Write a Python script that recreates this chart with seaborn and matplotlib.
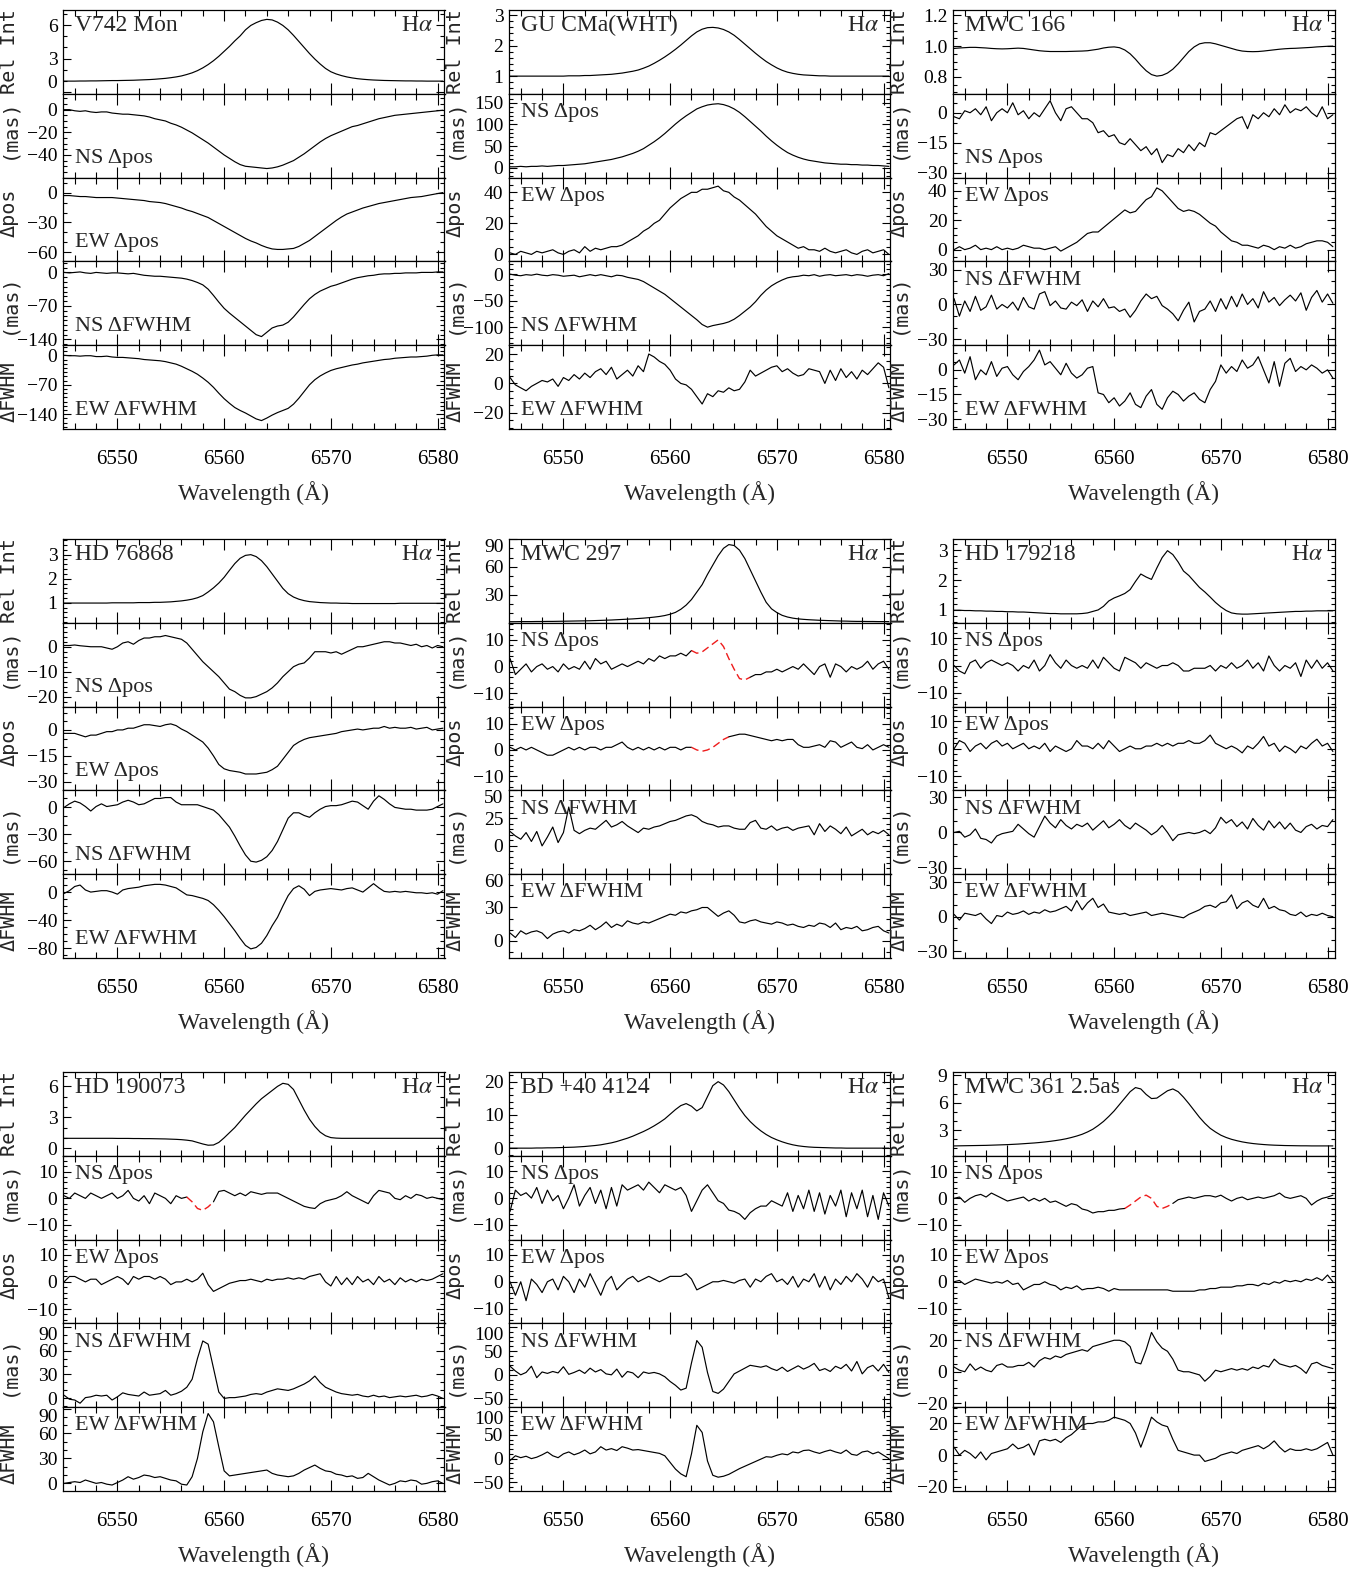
import numpy as np
import matplotlib
matplotlib.use("Agg")
import matplotlib.pyplot as plt
import seaborn as sns
from matplotlib.ticker import FixedLocator, MultipleLocator, AutoMinorLocator, FuncFormatter

# ------------------------------------------------------------------ data
WL_START = 6545.0
WL_STEP = 0.5
XLIM = (6544.9, 6580.65)
X_TICKS = [6550, 6560, 6570, 6580]

STARS = ["V742 Mon", "GU CMa(WHT)", "MWC 166",
         "HD 76868", "MWC 297", "HD 179218",
         "HD 190073", "BD +40 4124", "MWC 361 2.5as"]
LINE_LABEL = "H$\\alpha$"
SUB_NAMES = ["NS \u0394pos", "EW \u0394pos", "NS \u0394FWHM", "EW \u0394FWHM"]
YLABELS = ["Rel Int", "(mas)", "\u0394pos", "(mas)", "\u0394FWHM"]
XLABEL = "Wavelength (\u00c5)"

# ---- V742 Mon
v742_rel = [0.95, 0.95, 0.95, 0.96, 0.96, 0.97, 0.97, 0.98,
            0.99, 1.00, 1.00, 1.01, 1.02, 1.03, 1.05, 1.07,
            1.09, 1.12, 1.16, 1.20, 1.26, 1.33, 1.42, 1.55,
            1.70, 1.90, 2.15, 2.45, 2.80, 3.20, 3.65, 4.10,
            4.60, 5.05, 5.60, 6.00, 6.25, 6.45, 6.55, 6.50,
            6.30, 6.00, 5.60, 5.10, 4.55, 4.00, 3.45, 2.95,
            2.50, 2.10, 1.80, 1.60, 1.45, 1.33, 1.24, 1.17,
            1.12, 1.08, 1.05, 1.03, 1.01, 1.00, 0.99, 0.98,
            0.97, 0.97, 0.96, 0.96, 0.95, 0.95, 0.95, 0.95]
v742_ns_pos = [0, 0, -1, -1.5, -1, -2, -2.5, -2,
               -2, -3, -3.5, -4, -4, -4.5, -5, -5.5,
               -6.5, -8, -9, -10, -12, -13.5, -15.5, -18,
               -20.5, -23.5, -26.5, -29.5, -33, -36.5, -40, -43,
               -46, -48.5, -50, -50.5, -51, -51.5, -52, -51.5,
               -50.5, -49, -47, -45, -42, -39, -35.5, -32,
               -28.5, -25.5, -23, -21, -19, -17, -15, -14,
               -12.5, -11, -9.5, -8, -7, -6, -5, -4.5,
               -4, -3.5, -3, -2.5, -2, -1.5, -1, -0.5]
v742_ew_pos = [-3, -3, -3.5, -4, -4, -4.5, -5, -5,
               -5, -5, -5.5, -6, -6.5, -7, -7.5, -8,
               -9, -9.5, -10, -11, -12.5, -14, -15.5, -17.5,
               -19, -21, -23, -25, -28, -31, -34, -37,
               -40, -43, -46, -48.5, -50.5, -53, -55, -56.5,
               -57, -57, -56.5, -56, -54, -51, -48, -44,
               -40, -36, -32, -28, -24.5, -21.5, -19.5, -17.5,
               -15.5, -14, -12.5, -11, -10, -9, -8, -7,
               -6, -5, -4.5, -4, -3, -2, -1, 0]
v742_ns_fwhm = [0, -1, 0, 1, -1, -2, 0, -1,
                -2, -1, -1, -2, -3, -2, -4, -6,
                -7, -8, -8, -9, -10, -11, -12, -14,
                -17, -21, -26, -35, -48, -62, -75, -85,
                -94, -103, -112, -121, -130, -134, -125, -116,
                -112, -110, -104, -93, -80, -67, -55, -46,
                -39, -34, -29, -26, -22, -18, -14, -11,
                -9, -7, -6, -4, -3, -3, -2, -2,
                -1, -1, -1, 0, 0, 0, 1, 1]
v742_ew_fwhm = [0, -1, -1, -2, -1, -1, -3, -3,
                -2, -4, -5, -5, -6, -7, -8, -10,
                -11, -12, -13, -15, -18, -21, -26, -32,
                -38, -45, -54, -64, -76, -90, -103, -114,
                -124, -131, -137, -144, -151, -155, -149, -142,
                -136, -131, -126, -116, -102, -86, -70, -58,
                -49, -42, -36, -32, -29, -26, -23, -21,
                -18, -16, -14, -12, -10, -9, -7, -6,
                -5, -4, -4, -3, -2, 0, 1, 1]
v742_yticks = [[0, 3, 6], [0, -20, -40], [0, -30, -60], [0, -70, -140], [0, -70, -140]]
v742_ylim = [(-0.2, 7.4), (-60, 14), (-69, 15), (-152, 23), (-175, 24)]

# ---- GU CMa (WHT)
gucma_rel = [1.0, 1.0, 1.0, 1.0, 1.0, 1.0, 1.0, 1.0,
             1.0, 1.0, 1.0, 1.01, 1.01, 1.01, 1.02, 1.02,
             1.03, 1.04, 1.05, 1.06, 1.08, 1.10, 1.13, 1.16,
             1.20, 1.26, 1.33, 1.42, 1.52, 1.63, 1.75, 1.88,
             2.02, 2.17, 2.32, 2.45, 2.54, 2.59, 2.60, 2.58,
             2.53, 2.45, 2.34, 2.20, 2.05, 1.90, 1.75, 1.61,
             1.48, 1.37, 1.27, 1.19, 1.13, 1.09, 1.06, 1.04,
             1.03, 1.02, 1.01, 1.01, 1.0, 1.0, 1.0, 1.0,
             1.0, 1.0, 1.0, 1.0, 1.0, 1.0, 1.0, 1.0]
gucma_ns_pos = [2, 2, 3, 2, 3, 3, 4, 3,
                4, 5, 5, 6, 7, 8, 9, 11,
                13, 15, 17, 19, 22, 25, 29, 33,
                38, 44, 52, 60, 69, 79, 90, 101,
                111, 120, 128, 136, 141, 145, 147, 148,
                146, 142, 136, 128, 118, 107, 96, 85,
                73, 62, 52, 43, 35, 29, 24, 20,
                17, 15, 13, 11, 10, 9, 8, 8,
                7, 7, 6, 6, 5, 5, 4, 3]
gucma_ew_pos = [1, 0, 2, 1, 0, 2, 1, 2,
                3, 1, 0, 2, 3, 1, 5, 2,
                4, 3, 4, 5, 5, 6, 8, 10,
                12, 15, 17, 20, 22, 26, 30, 33,
                36, 38, 40, 40, 42, 42, 43, 44,
                41, 40, 37, 35, 32, 29, 26, 22,
                18, 15, 12, 10, 8, 6, 4, 5,
                3, 3, 2, 4, 2, 1, 2, 3,
                1, 0, 2, 3, 1, 2, 3, 0]
gucma_ns_fwhm = [0, -2, -3, -1, -2, 0, -2, -3,
                 -1, -2, -4, -3, -2, -5, -3, -1,
                 -3, -1, -3, -5, -2, -3, -6, -8,
                 -10, -14, -20, -26, -32, -38, -46, -54,
                 -62, -70, -78, -86, -95, -100, -97, -95,
                 -93, -90, -85, -78, -70, -62, -52, -40,
                 -30, -22, -16, -11, -7, -5, -4, -2,
                 -3, -1, -4, -2, -1, -3, -2, -1,
                 -3, -1, -2, -4, -2, -1, -3, 1]
gucma_ew_fwhm = [4, -1, -3, -5, -2, 0, 2, 1,
                 3, -2, 4, 2, 6, 3, 7, 4,
                 8, 10, 6, 11, 3, 6, 9, 5,
                 12, 8, 20, 18, 15, 13, 9, 3,
                 0, -1, -4, -9, -14, -7, -9, -5,
                 -6, -3, -5, -4, 1, 9, 5, 7,
                 9, 11, 12, 8, 10, 7, 5, 6,
                 10, 9, 8, 0, 9, 2, 10, 4,
                 8, 3, 9, 6, 10, 14, 11, -3]
gucma_yticks = [[1, 2, 3], [0, 50, 100, 150], [0, 20, 40], [0, -50, -100], [-20, 0, 20]]
gucma_ylim = [(0.42, 3.17), (-23, 171), (-4.5, 49.5), (-134, 24), (-31, 26)]

# ---- MWC 166
mwc166_rel = [0.985, 0.988, 0.990, 0.992, 0.992, 0.990, 0.988, 0.985,
              0.983, 0.982, 0.983, 0.985, 0.987, 0.985, 0.980, 0.975,
              0.970, 0.967, 0.965, 0.965, 0.965, 0.965, 0.966, 0.967,
              0.968, 0.970, 0.975, 0.980, 0.988, 0.993, 0.995, 0.990,
              0.975, 0.950, 0.915, 0.875, 0.840, 0.815, 0.805, 0.810,
              0.825, 0.850, 0.885, 0.925, 0.965, 0.995, 1.015, 1.022,
              1.022, 1.015, 1.005, 0.995, 0.985, 0.975, 0.968, 0.965,
              0.964, 0.965, 0.968, 0.972, 0.976, 0.980, 0.983, 0.985,
              0.986, 0.988, 0.990, 0.992, 0.995, 0.997, 0.999, 1.000]
mwc166_ns_pos = [-2, -3, 1, 0, 2, -1, 3, -4,
                 0, 2, 0, 5, -1, 1, -3, 0,
                 -2, 2, 6, 0, -4, 2, 3, 0,
                 -3, -3, -5, -10, -9, -12, -11, -15,
                 -16, -13, -16, -19, -17, -21, -18, -25,
                 -21, -22, -18, -20, -16, -19, -15, -17,
                 -10, -11, -9, -7, -5, -3, -2, -8,
                 -1, -3, 0, -2, 2, -1, 4, 0,
                 2, 1, 3, 0, -2, 3, -3, -1]
mwc166_ew_pos = [0, 2, 0, 1, 3, 0, 1, 0,
                 2, 0, 1, 0, 1, 3, 2, 1,
                 1, 0, 1, 2, -1, 1, 3, 5,
                 8, 11, 12, 12, 15, 18, 21, 24,
                 27, 25, 26, 30, 34, 36, 42, 40,
                 36, 32, 28, 26, 27, 26, 24, 21,
                 18, 16, 12, 9, 6, 5, 3, 3,
                 2, 1, 3, 2, 0, 2, 1, 3,
                 1, 2, 4, 5, 6, 6, 5, 2]
mwc166_ns_fwhm = [5, -10, 3, -6, 7, -5, -2, 8,
                  -4, 0, -3, 2, -5, 6, -2, -4,
                  9, 11, -1, 3, -3, -4, 2, -1,
                  4, -6, 3, -2, 5, -3, -2, -6,
                  -4, -11, -5, 3, 9, 5, 7, -1,
                  -4, -8, -14, -5, 2, -15, -6, -4,
                  3, -6, 5, -4, 7, -2, 9, 0,
                  5, -3, 11, 2, 6, -1, 4, 8,
                  3, 10, -5, 6, 12, 2, 9, 1]
mwc166_ew_fwhm = [3, 6, -2, 8, -6, 0, -3, 5,
                  -4, 1, 2, -3, -6, -1, 2, 6,
                  12, 3, 5, 1, -3, 4, -2, -5,
                  -3, 1, 2, -14, -15, -20, -17, -22,
                  -19, -14, -21, -23, -16, -12, -21, -24,
                  -17, -13, -15, -19, -16, -14, -18, -20,
                  -12, -7, 3, -2, 2, -1, 6, 1,
                  3, 8, 0, -8, 5, -10, 4, 7,
                  -1, 2, 0, 3, 1, -2, 0, -5]
mwc166_yticks = [[0.8, 1.0, 1.2], [0, -15, -30], [0, 20, 40], [-30, 0, 30], [0, -15, -30]]
mwc166_ylim = [(0.69, 1.235), (-32.5, 9.5), (-8, 49), (-35, 37), (-36, 15)]

# ---- HD 76868
hd76868_rel = [0.99, 0.99, 0.99, 0.99, 0.99, 0.99, 0.99, 0.99,
               0.99, 1.00, 1.00, 1.00, 1.00, 1.00, 1.01, 1.01,
               1.01, 1.02, 1.02, 1.03, 1.04, 1.06, 1.08, 1.11,
               1.15, 1.21, 1.30, 1.45, 1.62, 1.82, 2.06, 2.35,
               2.63, 2.85, 2.97, 3.00, 2.92, 2.75, 2.50, 2.20,
               1.90, 1.60, 1.38, 1.24, 1.15, 1.09, 1.05, 1.03,
               1.01, 1.00, 0.99, 0.99, 0.98, 0.98, 0.97, 0.97,
               0.97, 0.97, 0.97, 0.97, 0.97, 0.97, 0.97, 0.98,
               0.98, 0.98, 0.98, 0.98, 0.98, 0.98, 0.98, 0.98]
hd76868_ns_pos = [0.5, 0.5, 0.7, 0.4, 0.2, 0, 0, 0,
                  -0.5, -1, 0, 1.5, 2, 1, 2.5, 3.5,
                  3.5, 4, 4, 4.5, 4, 3.5, 3, 1.5,
                  -1, -3.5, -6, -8, -10, -12, -14.5, -17,
                  -18, -19.5, -20.5, -20.5, -20, -19, -18, -16.5,
                  -14.5, -12, -10, -8, -7, -6.5, -4.5, -2,
                  -2, -2, -2.5, -2, -3, -2, -1, 0,
                  0, 0.5, 1, 1.5, 2, 2, 1.5, 1.5,
                  1, 0.5, 1, 0, 0.5, -0.5, 0.5, 0]
hd76868_ew_pos = [-2, -2, -2, -3, -4, -3, -3, -2,
                  -1, -1, 0, 0, 1, 1, 2, 3,
                  3, 2.5, 2, 3, 3.5, 2.5, 0.5, -1,
                  -3, -5, -7, -10.5, -15, -20, -22.5, -23.5,
                  -24, -24.5, -25.5, -25.5, -25.5, -25, -24.5, -23,
                  -21, -17, -13, -9, -7, -5.5, -4.5, -4,
                  -3.5, -3, -2.5, -2, -1, -0.5, 0, 0.5,
                  0, 0.5, 1, 1, 2, 1, 1.5, 1,
                  1, 1.5, 0.5, 1, 1.5, 0, 0.5, 1]
hd76868_ns_fwhm = [0, 4, 7, 5, 1, -4, 1, 4,
                   1, 2, 3, 6, 8, 6, 3, 4,
                   7, 10, 10, 11, 11, 6, 3, 3,
                   3, 3, 1, -1, -3, -8, -15, -22,
                   -32, -43, -53, -60, -61, -59, -55, -48,
                   -38, -25, -12, -6, -6, -9, -11, -6,
                   -2, 1, 2, 2, 3, 5, 7, 6,
                   2, -2, 7, 13, 9, 4, 0, -1,
                   -2, -2, -3, -3, -3, -2, 1, 4]
hd76868_ew_fwhm = [-2, 2, 8, 10, 3, 0, 1, 2,
                   2, 0, -3, 3, 5, 6, 7, 9,
                   10, 11, 11, 10, 8, 6, 1, -4,
                   -5, -7, -9, -12, -18, -26, -35, -45,
                   -55, -66, -76, -81, -79, -73, -62, -48,
                   -36, -20, -5, 5, 9, 4, -5, 1,
                   3, 4, 5, 4, 3, 5, 6, 3,
                   0, 6, 12, 6, 1, 0, 1, 0,
                   1, 0, -1, -1, -2, -1, -3, 2]
hd76868_yticks = [[1, 2, 3], [0, -10, -20], [0, -15, -30], [0, -30, -60], [0, -40, -80]]
hd76868_ylim = [(0.17, 3.65), (-24, 9.6), (-35, 13.5), (-74.5, 19), (-94, 25.5)]

# ---- MWC 297
mwc297_rel = [1.2, 1.2, 1.3, 1.3, 1.3, 1.4, 1.4, 1.5,
              1.5, 1.6, 1.7, 1.8, 1.9, 2.0, 2.1, 2.2,
              2.4, 2.6, 2.8, 3.0, 3.3, 3.6, 3.9, 4.2,
              4.6, 5.0, 5.5, 6.1, 6.8, 7.8, 9.2, 11.2,
              14.5, 19, 25, 33, 41, 52, 62, 72,
              80, 84, 83, 78, 69, 57, 45, 33,
              22, 15, 11, 8, 6.2, 5.0, 4.2, 3.7,
              3.3, 3.0, 2.7, 2.5, 2.3, 2.1, 1.9, 1.8,
              1.6, 1.5, 1.5, 1.4, 1.4, 1.3, 1.3, 1.3]
mwc297_ns_pos = [3, -3, -1, 1, -2, 0, 1, -1,
                 0, -2, 1, -1, 0, -1, 2, -1,
                 3, 1, 2, -1, 0, 1, 0, 1,
                 2, 1, 3, 2, 4, 3, 4, 4,
                 5, 4, 6, 5, 5.5, 7, 8.5, 10,
                 7.5, 3, -1, -4.5, -5, -4, -3, -3,
                 -2, -2, -1, -2, -1, 0, -1, 1,
                 -1, -3, 0, 1, -4, 1, 0, -2,
                 0, -1, 0, 2, -1, 1, 2, -1]
mwc297_ew_pos = [1, 0, 1, 0, 1, 0, -1, -2,
                 -2, -1, 0, 1, 0, 1, 0, 1,
                 1, 0, 1, 1, 2, 3, 1, 0,
                 1, 0, 1, 0, 1, 0, 1, 1,
                 0, 1, 1, 0, -0.5, 0, 1, 2.5,
                 4, 5, 5.5, 6, 6, 5.5, 5, 4.5,
                 4, 3.5, 4, 3.5, 4, 4, 2, 1,
                 1, 1.5, 2, 1, 3.5, 3, 1, 2,
                 3, 1, 0.5, 2, 0, 1, 2, 1]
mwc297_ns_fwhm = [13, 9, 6, 12, 4, 13, 0, 8,
                  17, 3, 12, 35, 14, 11, 14, 16,
                  15, 19, 23, 17, 19, 22, 18, 15,
                  12, 16, 15, 17, 18, 20, 22, 23,
                  25, 27, 28, 26, 22, 20, 19, 17,
                  18, 18, 16, 15, 15, 21, 23, 16,
                  15, 18, 14, 16, 17, 14, 16, 17,
                  18, 10, 20, 13, 18, 15, 11, 17,
                  9, 12, 15, 10, 13, 11, 14, 10]
mwc297_ew_fwhm = [7, 3, 9, 6, 8, 9, 7, 2,
                  6, 8, 9, 7, 10, 9, 11, 14,
                  10, 13, 17, 12, 15, 13, 18, 16,
                  15, 17, 16, 18, 20, 22, 24, 23,
                  26, 25, 27, 28, 30, 30, 26, 22,
                  25, 27, 23, 17, 16, 18, 19, 17,
                  16, 15, 17, 16, 14, 15, 13, 12,
                  14, 13, 16, 15, 12, 16, 10, 12,
                  11, 13, 9, 10, 12, 13, 9, 7]
mwc297_yticks = [[30, 60, 90], [-10, 0, 10], [-10, 0, 10], [0, 25, 50], [0, 30, 60]]
mwc297_ylim = [(0, 90), (-15, 16.4), (-15.4, 16.5), (-25.5, 50), (-15.5, 60)]

# ---- HD 179218
hd179218_rel = [0.99, 0.99, 0.98, 0.98, 0.97, 0.97, 0.96, 0.96,
                0.95, 0.95, 0.94, 0.94, 0.93, 0.93, 0.92, 0.91,
                0.90, 0.89, 0.88, 0.88, 0.87, 0.87, 0.87, 0.87,
                0.88, 0.90, 0.95, 1.00, 1.12, 1.30, 1.40, 1.47,
                1.55, 1.68, 1.95, 2.20, 2.10, 2.02, 2.40, 2.75,
                2.98, 2.85, 2.60, 2.30, 2.15, 1.95, 1.75, 1.60,
                1.43, 1.25, 1.10, 0.98, 0.90, 0.87, 0.86, 0.86,
                0.87, 0.88, 0.89, 0.90, 0.91, 0.92, 0.93, 0.94,
                0.95, 0.95, 0.96, 0.96, 0.97, 0.97, 0.97, 0.97]
hd179218_ns_pos = [0, -2, -3, 1, 2, -1, 1, 2,
                   1, 0, 1, 0, -2, 0, -1, 2,
                   -2, 0, 4, 1, -1, 2, 0, -1,
                   0, -1, 2, -1, 3, 1, -1, -2,
                   3, 2, 1, -1, 1, 0, -1, 0,
                   0, 1, 0, -2, -2, -1, -1, -1,
                   0, -2, 0, -1, 1, -1, 0, 2,
                   -1, 1, -2, 3.5, 0, -2, 0, -1,
                   1, -4, 2, -1, 2, -1, 1, -2]
hd179218_ew_pos = [0, 3, 2, -1, 1, 2, 0, 2,
                   3, 1, 2, 0, 1, 2, 0, 1,
                   0, 2, -1, 1, 0, -1, 0, 3,
                   1, 1, 0, 2, 0, 3, 1, -1,
                   0, 1, 0, 0, 1, 1, 2, 1,
                   2, 1, 2, 2, 3, 2, 2, 3,
                   5, 2, 1, 0, 1, 0, -1.5, 1,
                   0, 2, 4.5, 1, 2, -1, 1, 0,
                   -1.5, 1, 0, 2, 3.5, 1, 2, -1]
hd179218_ns_fwhm = [0, 1, -4, -2, 3, -5, -6, -9,
                    -3, -1, 0, 1, 7, 3, -1, -4,
                    5, 14, 8, 4, 11, 6, 3, 7,
                    5, 8, 2, 6, 10, 4, 7, 11,
                    6, 3, 8, 5, 2, -2, 1, 6,
                    0, -7, -2, -1, 0, -1, 0, 2,
                    -1, 4, 13, 8, 11, 5, 9, 3,
                    12, 6, 2, 10, 4, 9, 3, 8,
                    2, 0, 5, 7, 3, 6, 5, 11]
hd179218_ew_fwhm = [2, -3, 3, 2, 1, 3, -2, -6,
                    1, 0, 4, 2, 3, 5, 2, 4,
                    3, 6, 4, 5, 7, 9, 5, 14,
                    6, 12, 16, 8, 11, 4, 3, 2,
                    3, 1, 2, 3, 4, 1, 2, 3,
                    2, 1, 0, -1, 2, 4, 6, 9,
                    10, 8, 12, 13, 19, 7, 12, 14,
                    10, 8, 16, 7, 9, 6, 5, 2,
                    1, 4, 0, 2, 1, 3, 1, 0]
hd179218_yticks = [[1, 2, 3], [-10, 0, 10], [-10, 0, 10], [-30, 0, 30], [-30, 0, 30]]
hd179218_ylim = [(0.57, 3.37), (-15, 15.6), (-15.2, 15.4), (-35.7, 36), (-36, 37)]

# ---- HD 190073
hd190073_rel = [0.95, 0.95, 0.95, 0.95, 0.95, 0.95, 0.95, 0.95,
                0.95, 0.95, 0.94, 0.94, 0.94, 0.93, 0.93, 0.92,
                0.92, 0.91, 0.90, 0.89, 0.87, 0.85, 0.82, 0.77,
                0.70, 0.55, 0.40, 0.28, 0.30, 0.55, 1.00, 1.50,
                2.00, 2.60, 3.20, 3.75, 4.30, 4.80, 5.20, 5.60,
                6.00, 6.30, 6.20, 5.70, 4.70, 3.70, 2.80, 2.10,
                1.55, 1.20, 1.02, 0.97, 0.95, 0.95, 0.95, 0.95,
                0.95, 0.95, 0.95, 0.95, 0.95, 0.95, 0.95, 0.95,
                0.95, 0.95, 0.95, 0.95, 0.95, 0.95, 0.95, 0.95]
hd190073_ns_pos = [1, 0, 2, 1, 0, 2, 1, 0,
                   1, 2, 0, 1, 3, 0, -1, 1,
                   -2, 2, 1, 0, -2, 1, 0, 0.5,
                   -1.3, -3.8, -4.5, -3.2, -1.3, 2.6, 3, 2,
                   1, 2, 1, 2.5, 2, 1.5, 2, 2,
                   2, 1, 0, -1, -2, -3, -3.5, -3.8,
                   -2, -1, -0.5, 0, 1, 2.5, 1, 0,
                   -1, -2, 1, 3, 2.5, 2, 0, -0.5,
                   1, 0, 1.5, 1, 0, 0.5, 0, -0.5]
hd190073_ew_pos = [0, 2, 2, 1, 0, 1, 1, -1,
                   0, 1, 2, 1, -1, 2, 1, 2,
                   2, 1, 2, 1, -1, 0, 0, 1,
                   0, 1, 3.2, -1, -3.5, -2.5, -1.5, -0.5,
                   0, 0.5, 0.5, 1, 0.5, 0, 1, 0.5,
                   1, 1, 1.5, 1, 1.5, 1, 2, 2.5,
                   3, 0, -1.5, 2, -1, 1.5, -1, 2,
                   0, 1, -1, 2, 0, 1, -1, 1.5,
                   0, 1, 0, 1, 0.5, 1, 2, 3]
hd190073_ns_fwhm = [4, -1, -2, -6, 1, 2, 4, 3,
                    4, -2, 2, 7, 5, 4, 3, 8,
                    4, 5, 6, 10, 4, 6, 9, 14,
                    24, 50, 72, 68, 38, 8, 0, 1,
                    1, 2, 3, 5, 6, 5, 8, 10,
                    12, 11, 10, 12, 15, 18, 22, 28,
                    20, 14, 11, 8, 6, 5, 4, 5,
                    3, 2, 4, 2, 3, 1, 2, 3,
                    2, 3, 4, 2, 3, 5, 3, 0]
hd190073_ew_fwhm = [0, 1, 2, 1, 4, 2, 0, 1,
                    -1, -2, 1, 4, 8, 5, 7, 10,
                    9, 7, 8, 6, 4, 3, -1, -2,
                    8, 30, 62, 84, 74, 44, 15, 9,
                    10, 11, 12, 13, 14, 15, 16, 12,
                    10, 9, 8, 9, 12, 16, 19, 22,
                    18, 15, 14, 11, 10, 8, 9, 6,
                    7, 12, 8, 4, 1, -2, 0, 3,
                    2, 4, 3, -1, 0, 2, 3, 0]
hd190073_yticks = [[0, 3, 6], [-10, 0, 10], [-10, 0, 10], [0, 30, 60, 90], [0, 30, 60, 90]]
hd190073_ylim = [(-0.75, 7.4), (-15.5, 16), (-15.3, 15.6), (-11, 94), (-9.2, 91.6)]

# ---- BD +40 4124
bd40_rel = [0, 0, 0, 0, 0, 0.05, 0.05, 0.1,
            0.1, 0.15, 0.2, 0.25, 0.3, 0.4, 0.5, 0.65,
            0.8, 1.0, 1.3, 1.6, 2.0, 2.5, 3.0, 3.6,
            4.3, 5.0, 5.8, 6.7, 7.7, 8.8, 10.2, 11.6,
            12.8, 13.4, 12.6, 11.2, 12.2, 15.5, 18.8, 20.0,
            19.0, 17.0, 14.5, 12.0, 9.8, 8.0, 6.5, 5.2,
            4.1, 3.2, 2.5, 1.9, 1.4, 1.0, 0.7, 0.5,
            0.35, 0.25, 0.2, 0.15, 0.1, 0.05, 0.05, 0,
            0, 0, 0, 0, 0, 0, 0, 0]
bd40_ns_pos = [-5, 3, 1, 2, 0, 4, -2, 3,
               -1, 1, -4, 0, 5, -3, 1, 4,
               -2, 3, -4, 4, -3, 5, 3, 4,
               5, 3, 6, 4, 2, 5, 4, 3,
               4, 1, -5, -1, 3, 5, 2, -1,
               -2, -4.5, -5, -6, -8, -5.5, -4, -3,
               -3, -1, -2, -3, 2, -5, 1, -4,
               3, -5, 2, -6, 1, -3, 3, -7,
               2, -4, 3, -7, 1, -8, 2, -3]
bd40_ew_pos = [0, -5, 0, -7, 1, -1, -4, 0,
               1, -3, 2, 0, -4, 1, -2, 3,
               -1, -5, 0, 2, -3, -1, 1, 2,
               0, 1, 2, 1, 0, 1, 2, 2,
               2, 3, 1, -3, -2, -1, 0, 0,
               0.5, 0, -0.5, 0.5, 1, -2, 1, 0,
               2, 3, 0, 1, -1, 2, -2, 1,
               0, 3, -2, 2, -3, 1, -1, 2,
               0, 3, 1, -2, 2, 0, 1, -6]
bd40_ns_fwhm = [18, 8, 0, 5, 18, -6, 6, 3,
                7, 4, 17, 1, 5, 10, 3, 14,
                6, 11, 2, 0, 12, -5, 7, 4,
                -6, 6, 3, 5, 2, -4, -14, -22,
                -32, -28, 25, 72, 58, 5, -35, -39,
                -30, -14, 2, 8, 14, 20, 18, 16,
                19, 13, 9, 16, 7, 13, 19, 12,
                17, 24, 9, 13, 7, 18, 13, 22,
                8, 28, 2, 15, 20, 8, 22, 5]
bd40_ew_fwhm = [-4, 6, 2, 5, 0, 3, 8, 14,
                6, 2, 10, 14, 8, 12, 18, 10,
                14, 25, 18, 21, 17, 25, 22, 18,
                19, 17, 15, 13, 11, 6, -8, -22,
                -32, -38, 10, 70, 55, -5, -35, -39,
                -37, -33, -27, -21, -16, -11, -6, -1,
                4, 3, 7, 10, 8, 14, 12, 17,
                18, 14, 11, 15, 18, 14, 11, 18,
                9, 7, 14, 16, 10, 14, 7, 0]
bd40_yticks = [[0, 10, 20], [-10, 0, 10], [-10, 0, 10], [-50, 0, 50, 100], [-50, 0, 50, 100]]
bd40_ylim = [(-2.3, 22.9), (-15.6, 15.9), (-15.4, 15.6), (-68, 108), (-68, 108)]

# ---- MWC 361 2.5as
mwc361_rel = [1.28, 1.29, 1.30, 1.31, 1.32, 1.33, 1.34, 1.36,
              1.38, 1.40, 1.42, 1.45, 1.48, 1.52, 1.56, 1.60,
              1.65, 1.71, 1.78, 1.86, 1.95, 2.06, 2.20, 2.36,
              2.55, 2.80, 3.10, 3.50, 3.95, 4.50, 5.10, 5.80,
              6.50, 7.20, 7.65, 7.50, 6.90, 6.45, 6.50, 6.90,
              7.30, 7.50, 7.20, 6.60, 5.90, 5.15, 4.40, 3.75,
              3.20, 2.80, 2.45, 2.20, 2.00, 1.85, 1.72, 1.62,
              1.54, 1.48, 1.43, 1.39, 1.36, 1.34, 1.32, 1.31,
              1.30, 1.29, 1.29, 1.28, 1.28, 1.28, 1.28, 1.28]
mwc361_ns_pos = [0, 0.5, -1.5, 0, 1, 1.5, 0.5, 2,
                 1, 0, -1, -0.5, 0, 0.5, -1, 0,
                 -1, 0, -1.5, -1, -2, -3, -2, -2.5,
                 -4, -4.5, -5.5, -5, -5, -4.5, -4.5, -4,
                 -3.8, -2.5, -1, 0.5, 1.2, 0, -3, -3.8,
                 -3, -1.9, -0.5, 0, 0.5, 0, 0.5, 1,
                 1, 0.5, 1.2, 0, -1, 0, 0.5, -0.5,
                 0, 0.5, 0, 0.5, 1, 2, 0.5, 0,
                 0.5, 1, 0, -2.5, -1, 0, 0.5, 1.2]
mwc361_ew_pos = [0, 0.5, -1, 0, 1, 0.5, 0, -0.5,
                 0, -0.5, 0.5, -1, -0.5, -3, -2, -1,
                 -1, 0, -1, -1.5, -3, -2, -2.5, -1.5,
                 -3, -2.5, -2.5, -2, -2.5, -3.5, -2.5, -3,
                 -3, -3, -3, -3, -3, -3, -3, -3,
                 -3, -3.5, -3.5, -3.5, -3.5, -3.5, -3, -3,
                 -2.5, -2.5, -2, -2, -2, -1.5, -1.5, -1,
                 -1, -1.5, -0.5, -1, 0, -0.5, 0.5, 0,
                 0.5, 0, 1, 0.5, 1.5, 0.5, 2.5, 0]
mwc361_ns_fwhm = [3, 1, 0, 5, 1, 3, 1, 0,
                  4, 5, 3, 3, 4, 4, 6, 3,
                  7, 9, 8, 10, 9, 11, 12, 13,
                  14, 13, 16, 17, 18, 19, 20, 20,
                  19, 16, 6, 5, 14, 25, 19, 15,
                  13, 8, 1, 0, 0, -1, -2, -6,
                  -3, 1, 0, 1, 2, 1, 2, 1,
                  3, 2, 4, 3, 8, 5, 4, 3,
                  4, 2, -1, 5, 6, 4, 3, 2]
mwc361_ew_fwhm = [5, 0, 3, 1, -2, 2, -3, 1,
                  2, 3, 4, 7, 4, 5, 7, 0,
                  9, 10, 9, 10, 8, 11, 13, 16,
                  19, 20, 20, 21, 21, 22, 24, 23,
                  22, 20, 14, 5, 14, 24, 21, 19,
                  18, 10, 3, 2, 1, 0, 0, -4,
                  -3, -2, 0, 1, 2, 1, 3, 4,
                  5, 6, 4, 6, 9, 5, 2, 4,
                  3, 3, 4, 3, 4, 6, 8, 0]
mwc361_yticks = [[3, 6, 9], [-10, 0, 10], [-10, 0, 10], [-20, 0, 20], [-20, 0, 20]]
mwc361_ylim = [(0.2, 9.35), (-15.5, 16), (-15.4, 15.6), (-22.5, 30.7), (-22.7, 30.3)]

PANELS = {
    "V742 Mon": ([v742_rel, v742_ns_pos, v742_ew_pos, v742_ns_fwhm, v742_ew_fwhm], v742_yticks, v742_ylim),
    "GU CMa(WHT)": ([gucma_rel, gucma_ns_pos, gucma_ew_pos, gucma_ns_fwhm, gucma_ew_fwhm], gucma_yticks, gucma_ylim),
    "MWC 166": ([mwc166_rel, mwc166_ns_pos, mwc166_ew_pos, mwc166_ns_fwhm, mwc166_ew_fwhm], mwc166_yticks, mwc166_ylim),
    "HD 76868": ([hd76868_rel, hd76868_ns_pos, hd76868_ew_pos, hd76868_ns_fwhm, hd76868_ew_fwhm], hd76868_yticks, hd76868_ylim),
    "MWC 297": ([mwc297_rel, mwc297_ns_pos, mwc297_ew_pos, mwc297_ns_fwhm, mwc297_ew_fwhm], mwc297_yticks, mwc297_ylim),
    "HD 179218": ([hd179218_rel, hd179218_ns_pos, hd179218_ew_pos, hd179218_ns_fwhm, hd179218_ew_fwhm], hd179218_yticks, hd179218_ylim),
    "HD 190073": ([hd190073_rel, hd190073_ns_pos, hd190073_ew_pos, hd190073_ns_fwhm, hd190073_ew_fwhm], hd190073_yticks, hd190073_ylim),
    "BD +40 4124": ([bd40_rel, bd40_ns_pos, bd40_ew_pos, bd40_ns_fwhm, bd40_ew_fwhm], bd40_yticks, bd40_ylim),
    "MWC 361 2.5as": ([mwc361_rel, mwc361_ns_pos, mwc361_ew_pos, mwc361_ns_fwhm, mwc361_ew_fwhm], mwc361_yticks, mwc361_ylim),
}

# wavelength intervals drawn as red dashes (series index 1 = NS pos, 2 = EW pos)
RED_SEGMENTS = {
    ("MWC 297", 1): (6562.0, 6567.5),
    ("MWC 297", 2): (6562.0, 6565.5),
    ("HD 190073", 1): (6556.5, 6559.0),
    ("MWC 361 2.5as", 1): (6561.0, 6565.5),
}

# where each sub-panel label sits: t = top, b = bottom
LABEL_SIDE = {
    "V742 Mon": "bbbb", "GU CMa(WHT)": "ttbb", "MWC 166": "bttb",
    "HD 76868": "bbbb", "MWC 297": "tttt", "HD 179218": "tttt",
    "HD 190073": "tttt", "BD +40 4124": "tttt", "MWC 361 2.5as": "tttt",
}

# ------------------------------------------------------------------ style
sns.set_theme(style="white")
plt.rcParams.update({
    "font.family": ["Liberation Serif", "DejaVu Serif"],
    "mathtext.fontset": "stix",
    "axes.linewidth": 0.9,
    "axes.edgecolor": "black",
    "xtick.color": "black",
    "ytick.color": "black",
    "axes.unicode_minus": True,
    "figure.facecolor": "white",
    "axes.facecolor": "white",
})

FIG_W, FIG_H = 1367, 1572
COL_LEFT = [63, 509, 953]
ROW_TOP = [10, 539, 1072]
AX_W = 381.5
SUB_H = 83.8
LW = 0.85
RED_COLOR = "#ee1c1c"
MINOR_N = {0.2: 4, 1: 5, 3: 3, 10: 5, 15: 3, 20: 4, 25: 5, 30: 3, 40: 4, 50: 5, 70: 7}
YLAB_SHIFT = [0.0, 0.08, 0.08, 0.0, -0.05]

fig = plt.figure(figsize=(FIG_W / 100, FIG_H / 100), dpi=100)


def fmt_factory(decimals):
    def f(v, pos):
        s = f"{abs(v):.{decimals}f}"
        return ("\u2212" + s) if v < -1e-9 else s
    return FuncFormatter(f)


for p, star in enumerate(STARS):
    r, c = divmod(p, 3)
    series, yticks, ylims = PANELS[star]
    sides = LABEL_SIDE[star]
    for k in range(5):
        top_px = ROW_TOP[r] + k * SUB_H
        rect = [COL_LEFT[c] / FIG_W, 1 - (top_px + SUB_H) / FIG_H, AX_W / FIG_W, SUB_H / FIG_H]
        ax = fig.add_axes(rect)
        vals = np.asarray(series[k], dtype=float)
        wl = WL_START + WL_STEP * np.arange(len(vals))
        seg = RED_SEGMENTS.get((star, k))
        if seg is None:
            sns.lineplot(x=wl, y=vals, ax=ax, color="black", linewidth=LW,
                         estimator=None, legend=False)
        else:
            a, b = seg
            left = wl <= a
            mid = (wl >= a) & (wl <= b)
            right = wl >= b
            sns.lineplot(x=wl[left], y=vals[left], ax=ax, color="black", linewidth=LW,
                         estimator=None, legend=False)
            sns.lineplot(x=wl[mid], y=vals[mid], ax=ax, color=RED_COLOR, linewidth=1.0,
                         linestyle=(0, (5.5, 3.0)), estimator=None, legend=False)
            sns.lineplot(x=wl[right], y=vals[right], ax=ax, color="black", linewidth=LW,
                         estimator=None, legend=False)

        ax.set_xlim(*XLIM)
        lo, hi = ylims[k]
        ax.set_ylim(lo, hi)
        ax.set_xlabel("")
        ax.set_ylabel("")

        # x axis
        ax.xaxis.set_major_locator(FixedLocator(X_TICKS))
        ax.xaxis.set_minor_locator(MultipleLocator(2))
        ax.xaxis.set_major_formatter(FuncFormatter(lambda v, pos: f"{v:.0f}"))
        ax.tick_params(axis="x", which="major", direction="in", length=8, width=0.8,
                       top=True, bottom=True, labelbottom=(k == 4), labelsize=15, pad=15)
        ax.tick_params(axis="x", which="minor", direction="in", length=4, width=0.8,
                       top=True, bottom=True)

        # y axis
        tk = yticks[k]
        ax.yaxis.set_major_locator(FixedLocator(tk))
        step = round(abs(sorted(tk)[1] - sorted(tk)[0]), 3)
        ax.yaxis.set_minor_locator(AutoMinorLocator(MINOR_N.get(step, 5)))
        decimals = 0 if all(abs(t - round(t)) < 1e-9 for t in tk) else 1
        ax.yaxis.set_major_formatter(fmt_factory(decimals))
        ax.tick_params(axis="y", which="major", direction="in", length=6, width=0.8,
                       left=True, right=True, labelsize=14, pad=4)
        ax.tick_params(axis="y", which="minor", direction="in", length=3, width=0.8,
                       left=True, right=True)
        locs = ax.yaxis.get_majorticklocs()
        top_thr = 0.99 if k == 0 else 0.95
        for t, v in zip(ax.yaxis.get_major_ticks(len(locs)), locs):
            frac = (v - lo) / (hi - lo)
            if frac > top_thr:
                t.label1.set_verticalalignment("top")
            elif frac < 0.04:
                t.label1.set_verticalalignment("bottom")

        for s in ax.spines.values():
            s.set_linewidth(0.9)
            s.set_color("black")

        # rotated y label piece
        ax.text(-0.141, 0.5 + YLAB_SHIFT[k], YLABELS[k], transform=ax.transAxes, rotation=90,
                ha="center", va="center", fontsize=14.5, family=["DejaVu Sans Mono"])

        if k == 0:
            ax.text(0.031, 0.94, star, transform=ax.transAxes, ha="left", va="top",
                    fontsize=17)
            ax.text(0.969, 0.94, LINE_LABEL, transform=ax.transAxes, ha="right",
                    va="top", fontsize=17)
        else:
            side = sides[k - 1]
            if side == "t":
                ax.text(0.031, 0.89, SUB_NAMES[k - 1], transform=ax.transAxes,
                        ha="left", va="top", fontsize=16)
            else:
                ax.text(0.031, 0.17, SUB_NAMES[k - 1], transform=ax.transAxes,
                        ha="left", va="baseline", fontsize=16)
        if k == 4:
            ax.text(0.5, -0.85, XLABEL, transform=ax.transAxes, ha="center",
                    va="baseline", fontsize=17)

fig.savefig("out.png", dpi=100, facecolor="white")
